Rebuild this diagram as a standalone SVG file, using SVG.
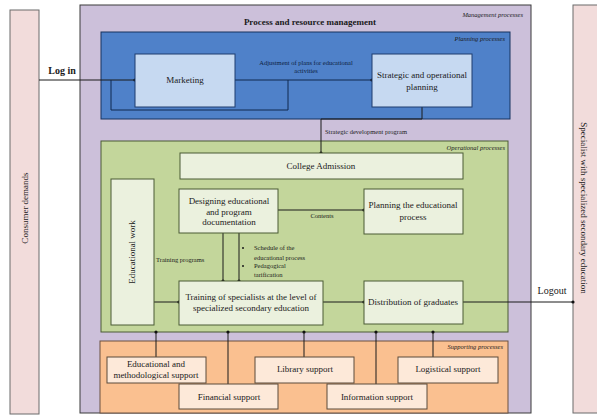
<svg xmlns="http://www.w3.org/2000/svg" width="597" height="417" viewBox="0 0 597 417">
<defs>
<marker id="dot" viewBox="0 0 4 4" refX="2" refY="2" markerWidth="4" markerHeight="4" markerUnits="userSpaceOnUse"><circle cx="2" cy="2" r="1.6" fill="#111"/></marker>
<style>
text{font-family:"Liberation Serif","Times New Roman",serif;fill:#1a1a1a}
.t{font-size:9px;text-anchor:middle}
.s{font-size:6.5px}
.c{text-anchor:middle}
.it{font-size:6.5px;font-style:italic;text-anchor:end}
.pink{fill:#f2dcdb;stroke:#6b6b6b;stroke-width:1}
.lb{fill:#c6d9f1;stroke:#1f3d6e;stroke-width:1}
.lg{fill:#ebf1de;stroke:#4a5a35;stroke-width:1}
.lo{fill:#fde9d9;stroke:#5a4a3a;stroke-width:1}
.ln{fill:none;stroke:#1a1a1a;stroke-width:1}
.lnb{fill:none;stroke:#10284f;stroke-width:1}
</style>
</defs>
<rect width="597" height="417" fill="#ffffff"/>

<g id="consumer"><rect class="pink" x="10" y="10" width="29" height="404"/>
<text class="t" transform="translate(28,208) rotate(-90)">Consumer demands</text></g>
<g id="specialist"><rect class="pink" x="573" y="5" width="30" height="408"/>
<text class="t" transform="translate(581,208) rotate(90)">Specialist with specialized secondary education</text></g>

<g id="management"><rect x="80" y="5" width="451" height="408" fill="#ccc0da" stroke="#3a3a3a" stroke-width="1"/>
<text x="310" y="25" class="c" style="font-size:9px;font-weight:bold">Process and resource management</text>
<text class="it" x="523" y="17">Management processes</text></g>

<g id="planning"><rect x="101" y="32" width="409" height="87" fill="#4f81c9" stroke="#17325e" stroke-width="1"/>
<text class="it" x="505" y="41">Planning processes</text></g>

<g id="operational"><rect x="101" y="141" width="407" height="191" fill="#c3d69b" stroke="#4a5a35" stroke-width="1"/>
<text class="it" x="505" y="150">Operational processes</text></g>

<g id="supporting"><rect x="100" y="341" width="408" height="72" fill="#fac090" stroke="#6a5040" stroke-width="1"/>
<text class="it" x="503" y="349">Supporting processes</text></g>

<g id="connectors">
<path class="ln" d="M39,80 H135" marker-end="url(#dot)"/>
<path class="lnb" d="M288,80 V110 H111 V80"/>
<path class="lnb" d="M235,80 H372" marker-end="url(#dot)"/>
<path class="ln" d="M422,107 V119 H321 V153" marker-end="url(#dot)"/>
<path class="ln" d="M278,210 H364" marker-end="url(#dot)"/>
<path class="ln" d="M223,233 V281" marker-end="url(#dot)"/>
<path class="ln" d="M239,233 V281" marker-end="url(#dot)"/>
<path class="ln" d="M154,302 H179" marker-end="url(#dot)"/>
<path class="ln" d="M323,302 H364" marker-end="url(#dot)"/>
<path class="ln" d="M463,302 H573" marker-end="url(#dot)"/>
<path class="ln" d="M156,357 V332" marker-end="url(#dot)"/>
<path class="ln" d="M228,384 V332" marker-end="url(#dot)"/>
<path class="ln" d="M304,357 V332" marker-end="url(#dot)"/>
<path class="ln" d="M376,384 V332" marker-end="url(#dot)"/>
<path class="ln" d="M433,357 V332" marker-end="url(#dot)"/>
<text x="62" y="74" class="c" style="font-size:10px;font-weight:bold">Log in</text>
<text x="552" y="294" class="c" style="font-size:10px">Logout</text>
<text class="s c" x="306" y="65" style="fill:#0d1f3f">Adjustment of plans for educational</text>
<text class="s c" x="306" y="73" style="fill:#0d1f3f">activities</text>
<text class="s" x="325" y="134">Strategic development program</text>
<text class="s c" x="322" y="218">Contents</text>
<text class="s" x="156" y="262">Training programs</text>
<circle cx="243" cy="248" r="1" fill="#1a1a1a"/>
<circle cx="243" cy="266" r="1" fill="#1a1a1a"/>
<text class="s" x="254" y="250">Schedule of the</text>
<text class="s" x="254" y="260">educational process</text>
<text class="s" x="254" y="268">Pedagogical</text>
<text class="s" x="254" y="277">tarification</text>
</g>

<g id="marketing"><rect class="lb" x="135" y="54" width="100" height="53"/>
<text class="t" x="185" y="83">Marketing</text></g>
<g id="strategic"><rect class="lb" x="372" y="54" width="100" height="53"/>
<text class="t" x="422" y="78">Strategic and operational</text>
<text class="t" x="422" y="90">planning</text></g>

<g id="admission"><rect class="lg" x="180" y="153" width="283" height="26"/>
<text class="t" x="321" y="169">College Admission</text></g>
<g id="edwork"><rect class="lg" x="111" y="179" width="43" height="146"/>
<text class="t" transform="translate(135,252) rotate(-90)">Educational work</text></g>
<g id="designing"><rect class="lg" x="179" y="189" width="99" height="44"/>
<text class="t" x="229" y="204">Designing educational</text>
<text class="t" x="229" y="214.5">and program</text>
<text class="t" x="229" y="225">documentation</text></g>
<g id="planproc"><rect class="lg" x="364" y="189" width="99" height="45"/>
<text class="t" x="413" y="208">Planning the educational</text>
<text class="t" x="413" y="220">process</text></g>
<g id="training"><rect class="lg" x="179" y="281" width="144" height="44"/>
<text class="t" x="251" y="300">Training of specialists at the level of</text>
<text class="t" x="251" y="311">specialized secondary education</text></g>
<g id="distribution"><rect class="lg" x="364" y="281" width="99" height="43"/>
<text class="t" x="413" y="305">Distribution of graduates</text></g>

<g id="edmeth"><rect class="lo" x="107" y="357" width="99" height="26"/>
<text class="t" x="156" y="367">Educational and</text>
<text class="t" x="156" y="378">methodological support</text></g>
<g id="financial"><rect class="lo" x="179" y="384" width="99" height="25"/>
<text class="t" x="229" y="400">Financial support</text></g>
<g id="library"><rect class="lo" x="255" y="357" width="99" height="26"/>
<text class="t" x="305" y="372">Library support</text></g>
<g id="information"><rect class="lo" x="327" y="384" width="100" height="25"/>
<text class="t" x="377" y="400">Information support</text></g>
<g id="logistical"><rect class="lo" x="398" y="357" width="100" height="26"/>
<text class="t" x="448" y="372">Logistical support</text></g>
</svg>
